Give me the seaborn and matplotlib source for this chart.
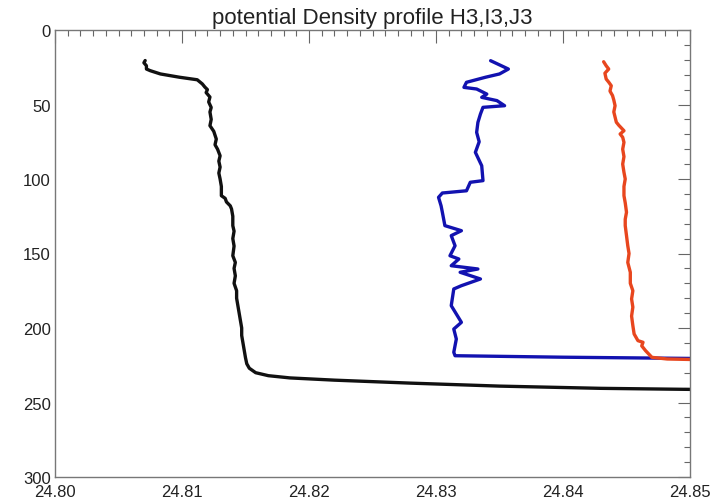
import matplotlib
matplotlib.use("Agg")
import matplotlib.pyplot as plt
from matplotlib.ticker import MultipleLocator, FormatStrFormatter
import seaborn as sns
import pandas as pd

# Station H3 (black)
h3_depth = [20.5, 22.0, 24.0, 26.2, 27.3, 29.5, 31.7, 33.4, 36.2, 38.3, 40.0, 42.0,
            45.0, 48.3, 52.0, 55.0, 60.0, 64.2, 68.0, 73.2, 77.0, 80.0, 84.4, 88.0,
            92.0, 96.0, 100.0, 105.0, 111.2, 113.0, 115.4, 118.0, 120.1, 125.0,
            131.3, 135.0, 140.0, 145.0, 151.5, 156.0, 160.0, 165.0, 170.0, 175.0,
            180.0, 185.0, 190.0, 195.0, 200.0, 205.0, 210.0, 215.0, 220.0, 224.0,
            227.0, 230.0, 232.0, 233.5, 235.0, 237.0, 239.0, 240.5, 241.3]
h3_sigma = [24.8071, 24.8070, 24.8072, 24.8072, 24.8075, 24.8083, 24.8098, 24.8112,
            24.8116, 24.8118, 24.8120, 24.8119, 24.8122, 24.8121, 24.8123, 24.8122,
            24.8123, 24.8122, 24.8125, 24.8127, 24.8126, 24.8128, 24.8130, 24.8129,
            24.8130, 24.8129, 24.8130, 24.8131, 24.8131, 24.8134, 24.8135, 24.8138,
            24.8139, 24.8140, 24.8140, 24.8141, 24.8140, 24.8141, 24.8140, 24.8142,
            24.8141, 24.8142, 24.8141, 24.8143, 24.8143, 24.8144, 24.8145, 24.8146,
            24.8147, 24.8147, 24.8148, 24.8149, 24.8150, 24.8151, 24.8153, 24.8158,
            24.8168, 24.8185, 24.8220, 24.8280, 24.8350, 24.8430, 24.8510]

# Station I3 (blue)
i3_depth = [20.6, 26.2, 29.5, 31.7, 35.1, 38.5, 39.6, 43.0, 45.2, 47.4, 50.8, 51.9,
            56.4, 62.0, 68.7, 75.0, 82.1, 91.1, 101.1, 102.2, 107.9, 109.4, 112.3,
            118.0, 122.3, 131.3, 134.7, 138.0, 144.8, 151.5, 153.7, 158.2, 160.4,
            162.6, 167.1, 171.6, 173.8, 185.0, 196.2, 200.7, 207.4, 216.3, 218.6,
            219.6, 220.5]
i3_sigma = [24.8343, 24.8357, 24.8350, 24.8339, 24.8324, 24.8322, 24.8332, 24.8340,
            24.8336, 24.8348, 24.8354, 24.8337, 24.8335, 24.8333, 24.8332, 24.8334,
            24.8331, 24.8336, 24.8337, 24.8327, 24.8324, 24.8305, 24.8302, 24.8304,
            24.8305, 24.8307, 24.8320, 24.8312, 24.8315, 24.8311, 24.8318, 24.8312,
            24.8333, 24.8319, 24.8335, 24.8320, 24.8314, 24.8312, 24.8320, 24.8314,
            24.8316, 24.8314, 24.8315, 24.8400, 24.8510]

# Station J3 (red)
j3_depth = [21.3, 24.0, 26.2, 29.0, 32.9, 35.0, 37.4, 41.0, 44.0, 47.0, 50.8, 55.0,
            61.9, 64.0, 67.6, 69.8, 72.0, 75.4, 80.0, 85.0, 90.0, 95.5, 100.0,
            105.0, 111.2, 116.0, 122.3, 127.0, 131.3, 138.0, 144.8, 150.0, 156.0,
            162.6, 170.0, 175.0, 180.5, 186.0, 192.0, 198.4, 204.0, 208.5, 209.6,
            212.0, 215.2, 219.7, 220.8, 221.3]
j3_sigma = [24.8432, 24.8434, 24.8436, 24.8433, 24.8434, 24.8436, 24.8438, 24.8437,
            24.8439, 24.8440, 24.8441, 24.8440, 24.8442, 24.8444, 24.8448, 24.8445,
            24.8447, 24.8448, 24.8447, 24.8448, 24.8447, 24.8448, 24.8449, 24.8448,
            24.8448, 24.8449, 24.8450, 24.8449, 24.8449, 24.8450, 24.8451, 24.8452,
            24.8451, 24.8453, 24.8453, 24.8455, 24.8454, 24.8455, 24.8454, 24.8455,
            24.8456, 24.8459, 24.8463, 24.8462, 24.8465, 24.8470, 24.8482, 24.8510]

x_ticks = [24.80, 24.81, 24.82, 24.83, 24.84, 24.85]
y_ticks = [0, 50, 100, 150, 200, 250, 300]

sns.set_style("white")
plt.rcParams["font.family"] = ["Liberation Sans", "DejaVu Sans"]

fig = plt.figure(figsize=(7.16, 5.02), dpi=100)
ax = fig.add_axes([55 / 716, 1 - 478 / 502, 635 / 716, 447 / 502])

profiles = [
    (h3_sigma, h3_depth, "#111111"),
    (i3_sigma, i3_depth, "#1212b0"),
    (j3_sigma, j3_depth, "#e8461e"),
]
for sig, dep, col in profiles:
    df = pd.DataFrame({"sigma": sig, "depth": dep})
    sns.lineplot(data=df, x="sigma", y="depth", sort=False, estimator=None,
                 color=col, linewidth=2.4, ax=ax)

ax.set_xlim(24.80, 24.85)
ax.set_ylim(300, 0)
ax.set_xticks(x_ticks)
ax.set_yticks(y_ticks)
ax.xaxis.set_major_formatter(FormatStrFormatter("%.2f"))
ax.xaxis.set_minor_locator(MultipleLocator(0.001))
ax.yaxis.set_minor_locator(MultipleLocator(10))
ax.set_xlabel("")
ax.set_ylabel("")

ax.tick_params(which="both", direction="in", top=True, right=True,
               color="#666666", width=0.8, labelcolor="#222222")
ax.tick_params(which="major", length=9, labelsize=12)
ax.tick_params(which="minor", length=4)
ax.tick_params(axis="y", which="major", pad=3)
ax.tick_params(axis="x", which="major", pad=5)
for s in ax.spines.values():
    s.set_color("#777777")
    s.set_linewidth(1.0)

ax.set_title("potential Density profile H3,I3,J3", fontsize=16,
             color="#222222", pad=5)

fig.savefig("out.png", dpi=100)
